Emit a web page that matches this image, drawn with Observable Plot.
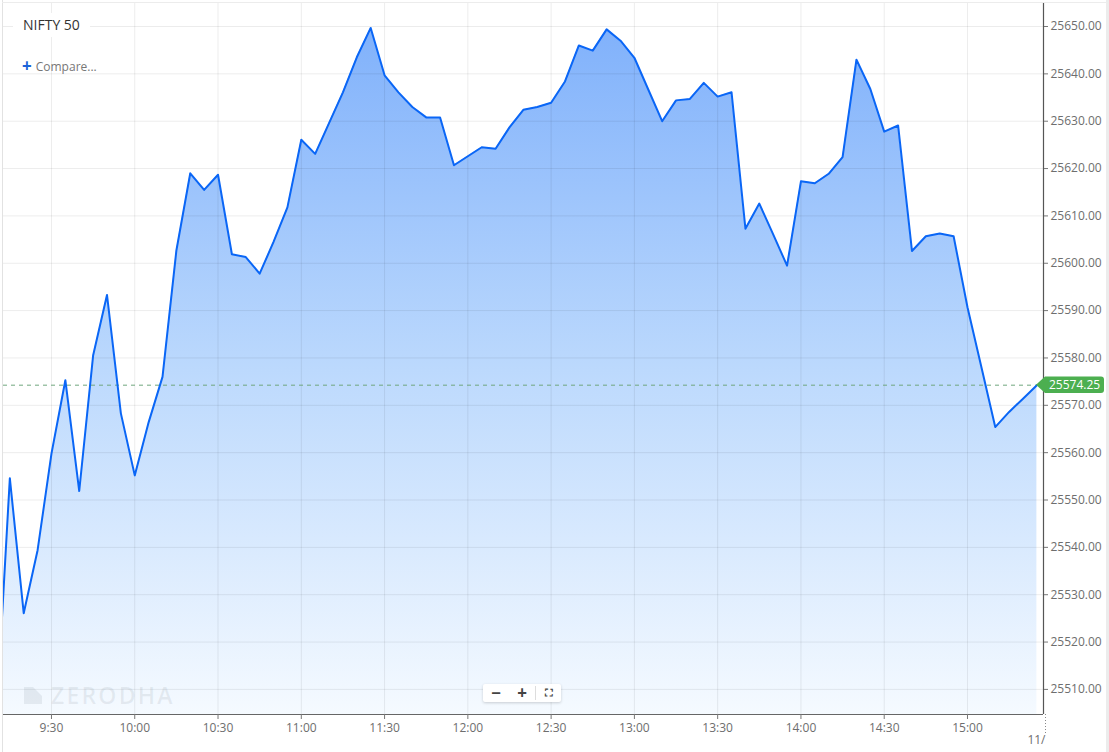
<!DOCTYPE html>
<html>
<head>
<meta charset="utf-8">
<script src="https://cdn.jsdelivr.net/npm/d3@7"></script>
<script src="https://cdn.jsdelivr.net/npm/@observablehq/plot@0.6"></script>
<style>
  html, body { margin: 0; padding: 0; background: #fff; }
  #wrap { position: relative; width: 1109px; height: 752px; overflow: hidden; font-family: "Open Sans", sans-serif; }
  #wrap svg { position: absolute; left: 0; top: 0; }
  .ov { position: absolute; }
  #title { left: 13px; top: 13px; height: 24px; padding: 0 10px; background: #fff; color: #333; font-size: 14px; line-height: 24px; }
  #compare { left: 22px; top: 56px; color: #777; font-size: 12px; line-height: 20px; white-space: nowrap; }
  #compare b { color: #1b63d9; font-size: 17px; font-weight: 700; vertical-align: -1px; margin-right: 4px; }
  #wm { left: 24px; top: 683px; color: rgba(110,120,130,0.12); font-size: 23px; font-weight: 600; letter-spacing: 2.2px; line-height: 24px; display: flex; align-items: center; }
  #wm svg { position: static; margin-right: 9px; }
  #ctrl { left: 483px; top: 684px; width: 78px; height: 18px; background: #fff; border-radius: 2px; box-shadow: 0 1px 3px rgba(0,0,0,0.18); display: flex; align-items: center; color: #444; font-size: 17px; font-weight: 700; }
  #ctrl span { display: inline-block; text-align: center; line-height: 18px; }
  #lb { left: 2px; top: 0; width: 1px; height: 752px; background: #e2e2e2; }
  #tb { left: 2px; top: 2px; width: 1104px; height: 1px; background: #ececec; }
  #rb { left: 1106px; top: 0; width: 3px; height: 752px; background: #ececec; }
</style>
</head>
<body>
<div id="wrap"></div>
<script>
// ---- data ----
const times = ["9:10","9:15","9:20","9:25","9:30","9:35","9:40","9:45","9:50","9:55",
  "10:00","10:05","10:10","10:15","10:20","10:25","10:30","10:35","10:40","10:45","10:50","10:55",
  "11:00","11:05","11:10","11:15","11:20","11:25","11:30","11:35","11:40","11:45","11:50","11:55",
  "12:00","12:05","12:10","12:15","12:20","12:25","12:30","12:35","12:40","12:45","12:50","12:55",
  "13:00","13:05","13:10","13:15","13:20","13:25","13:30","13:35","13:40","13:45","13:50","13:55",
  "14:00","14:05","14:10","14:15","14:20","14:25","14:30","14:35","14:40","14:45","14:50","14:55",
  "15:00","15:05","15:10","15:15","15:20","15:25"];
const prices = [25502.5,25554.6,25526.1,25539.4,25559.8,25575.3,25551.9,25580.5,25593.3,25568.3,
  25555.2,25566.4,25576.0,25602.7,25619.0,25615.5,25618.7,25601.9,25601.3,25597.8,25604.5,25611.8,
  25626.1,25623.1,25629.6,25636.1,25643.5,25649.7,25639.7,25636.1,25633.0,25630.8,25630.8,25620.7,
  25622.6,25624.5,25624.2,25628.7,25632.4,25633.0,25633.9,25638.4,25646.0,25644.9,25649.4,25647.0,
  25643.4,25636.7,25630.0,25634.4,25634.7,25638.1,25635.2,25636.1,25607.3,25612.6,25606.1,25599.5,
  25617.3,25616.9,25618.9,25622.4,25643.0,25636.8,25627.8,25629.1,25602.6,25605.7,25606.3,25605.7,
  25590.7,25578.1,25565.4,25568.6,25571.4,25574.25];
const xTickLabels = ["9:30","10:00","10:30","11:00","11:30","12:00","12:30","13:00","13:30","14:00","14:30","15:00"];
const yTicks = [25510,25520,25530,25540,25550,25560,25570,25580,25590,25600,25610,25620,25630,25640,25650];
const lastPrice = 25574.25;
const dateLabel = "11/";
const title = "NIFTY 50";

// ---- helpers ----
const toDate = (s, sec = 0) => { const [h, m] = s.split(":").map(Number); return new Date(Date.UTC(2025, 10, 7, h, m, sec)); };
const data = times.map((t, i) => ({ t: toDate(t), v: prices[i] }));
const xTicks = xTickLabels.map(s => toDate(s));
const xStart = toDate("9:12", 43);
const xEnd = toDate("15:27", 23);
const yMin = 25504.7, yMax = 25654.86;

const gradientDefs = () => {
  const defs = d3.create("svg:defs");
  const g = defs.append("linearGradient").attr("id", "areaGrad")
    .attr("gradientUnits", "userSpaceOnUse").attr("x1", 0).attr("x2", 0).attr("y1", 26).attr("y2", 714);
  g.append("stop").attr("offset", "0%").attr("stop-color", "#80b1fb");
  g.append("stop").attr("offset", "50%").attr("stop-color", "#bcd9fd");
  g.append("stop").attr("offset", "100%").attr("stop-color", "#f5faff");
  return defs.node();
};

const priceTag = (index, scales, values, dims) => {
  const y = scales.y(lastPrice);
  const x0 = dims.width - dims.marginRight - 7;
  const g = d3.create("svg:g");
  g.append("path")
    .attr("d", `M${x0},${y} L${x0 + 9},${y - 8.3} H${x0 + 65} Q${x0 + 68},${y - 8.3} ${x0 + 68},${y - 5.3} V${y + 5.3} Q${x0 + 68},${y + 8.3} ${x0 + 65},${y + 8.3} H${x0 + 9} Z`)
    .attr("fill", "#4caf50");
  g.append("text").attr("x", x0 + 13).attr("y", y).attr("dy", "0.36em")
    .attr("text-anchor", "start")
    .attr("fill", "#fff").attr("font-size", 12).attr("font-family", "Open Sans")
    .text(d3.format(".2f")(lastPrice));
  return g.node();
};

const chart = Plot.plot({
  width: 1109,
  height: 752,
  marginLeft: 3,
  marginRight: 66,
  marginTop: 3,
  marginBottom: 38,
  style: { fontFamily: "Open Sans", fontSize: "12px", color: "#6e6e6e", background: "transparent", overflow: "visible" },
  x: { type: "utc", domain: [xStart, xEnd], label: null },
  y: { domain: [yMin, yMax], label: null },
  marks: [
    gradientDefs,
    Plot.area(data, { x1: "t", y1: () => yMin, y2: "v", fill: "url(#areaGrad)", clip: true }),
    Plot.gridY(yTicks, { stroke: "#000", strokeOpacity: 0.075 }),
    Plot.gridX(xTicks, { stroke: "#000", strokeOpacity: 0.075 }),
    Plot.ruleY([lastPrice], { stroke: "#6fa77d", strokeDasharray: "4,4" }),
    Plot.line(data, { x: "t", y: "v", stroke: "#0a66f6", strokeWidth: 2, clip: true }),
    Plot.ruleY([yMin], { stroke: "#666", strokeWidth: 1.2 }),
    Plot.ruleX([xEnd], { stroke: "#555", strokeWidth: 1.2 }),
    Plot.axisX(xTicks, { anchor: "bottom", label: null, tickSize: 5, tickPadding: 4, stroke: "#777", tickFormat: d3.utcFormat("%-H:%M") }),
    Plot.axisX([xEnd], { anchor: "bottom", label: null, tickSize: 19, tickPadding: 2, stroke: "#888", strokeDasharray: "1,2", textAnchor: "end", dx: 2, tickFormat: () => dateLabel }),
    Plot.axisY(yTicks, { anchor: "right", label: null, tickSize: 4, tickPadding: 3, stroke: "#777", tickFormat: d3.format(".2f") }),
    priceTag
  ]
});

const wrap = document.getElementById("wrap");
wrap.appendChild(chart);
wrap.insertAdjacentHTML("beforeend", `
  <div class="ov" id="lb"></div>
  <div class="ov" id="tb"></div>
  <div class="ov" id="rb"></div>
  <div class="ov" id="title">${title}</div>
  <div class="ov" id="compare"><b>+</b>Compare...</div>
  <div class="ov" id="wm"><svg width="18" height="18" viewBox="0 0 18 18"><path d="M0,1 H9 L18,10 V18 H0 Z" fill="rgba(110,120,130,0.12)"/></svg>ZERODHA</div>
  <div class="ov" id="ctrl"><span style="width:26px">&#8722;</span><span style="width:26px">+</span><span style="width:1px;height:14px;background:#ddd"></span><span style="width:25px;font-size:11px">&#x26F6;</span></div>
`);
</script>
</body>
</html>
